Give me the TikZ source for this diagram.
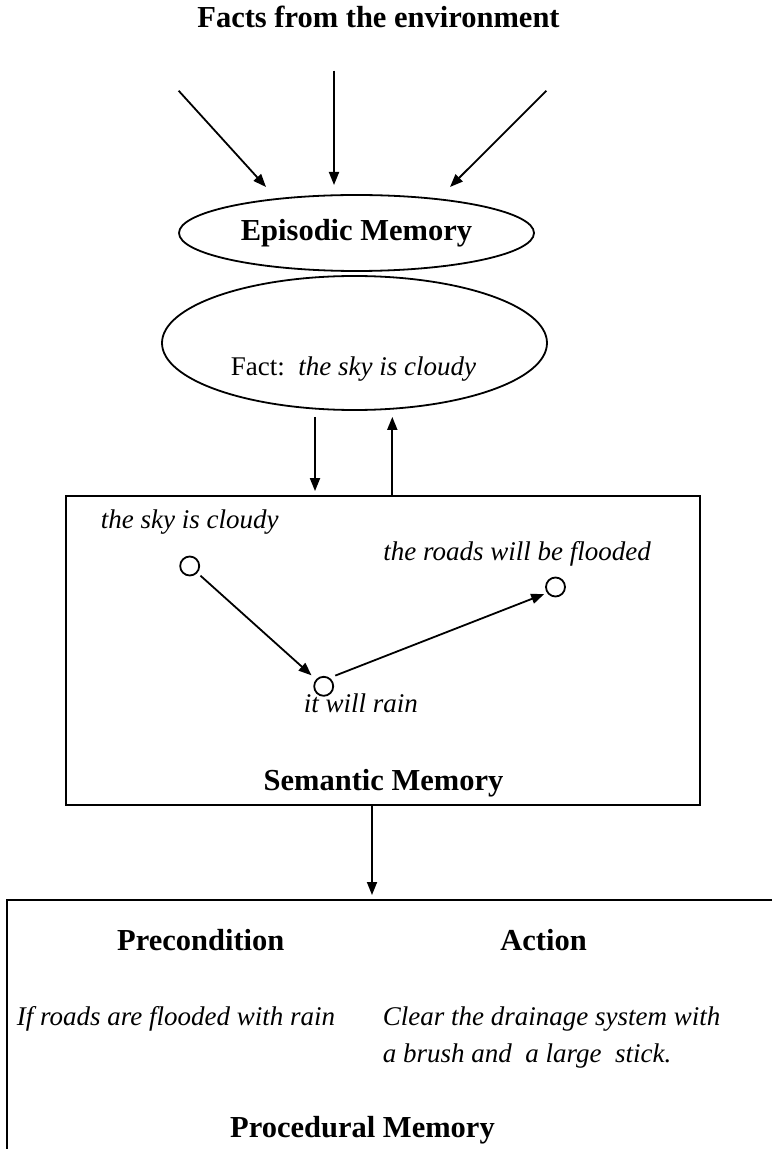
\documentclass[tikz,border=0pt]{standalone}
\usepackage{fontspec}
\setmainfont{Liberation Serif}
\usetikzlibrary{shapes.geometric,arrows.meta}

\begin{document}
\begin{tikzpicture}[x=0.5pt,y=-0.5pt,line width=0.9pt,
  >={Triangle[length=6.5pt,width=5pt]},
  heading/.style={font=\fontsize{15.25}{18}\selectfont\bfseries},
  itext/.style={font=\fontsize{13.5}{16}\selectfont\itshape},
  dot/.style={draw,circle,minimum size=9.5pt,inner sep=0pt}]
  \useasboundingbox (0,0) rectangle (772,1149);

  % helper grid: comment for final drawing
  % \draw[help lines,step=50] (0,0) grid (772,1149);

  % facts coming in
  \node[heading,anchor=base] (facts) at (378.5,28) {Facts from the environment};
  \coordinate (inl) at (178.6,90.7);
  \coordinate (inm) at (334,70.7);
  \coordinate (inr) at (546.4,90.7);
  \coordinate (tipl) at (266,187);
  \coordinate (tipm) at (334,185);
  \coordinate (tipr) at (450,187);
  \draw[->] (inl) -- (tipl);
  \draw[->] (inm) -- (tipm);
  \draw[->] (inr) -- (tipr);

  % episodic memory
  \node[draw,ellipse,heading,inner sep=0pt,minimum width=177.5pt,minimum height=38pt]
    (episodic) at (356.5,233) {Episodic Memory};
  \node[draw,ellipse,minimum width=192.5pt,minimum height=67pt] (factell) at (354.5,343) {};
  \node[anchor=base west,font=\fontsize{13.5}{16}\selectfont,inner sep=0pt]
    (fact) at (230,376) {Fact:\ \ \textit{the sky is cloudy}};

  % semantic memory
  \node[draw,inner sep=0pt,minimum width=317pt,minimum height=154.5pt] (semantic) at (383,650.5) {};
  \coordinate (dn) at (315,0);
  \coordinate (up) at (392.3,0);
  \draw[->,shorten <=3pt,shorten >=2pt] (factell.south -| dn) -- (semantic.north -| dn);
  \draw[->,shorten >=3pt] (semantic.north -| up) -- (factell.south -| up);

  \node[itext,anchor=base west,inner sep=0pt] (skytxt) at (100,528) {the sky is cloudy};
  \node[itext,anchor=base west,inner sep=0pt] (roadstxt) at (382.5,560) {the roads will be flooded};
  \node[itext,anchor=base west,inner sep=0pt] (raintxt) at (303,712) {it will rain};
  \node[dot] (c1) at (189.7,566) {};
  \node[dot] (c2) at (323.7,686.3) {};
  \node[dot] (c3) at (555.5,587) {};
  \draw[->,shorten <=2pt,shorten >=3pt] (c1) -- (c2);
  \draw[->,shorten <=3pt,shorten >=1.5pt] (c2.55) -- (c3.215);
  \node[heading,anchor=base] (semtxt) at (383.5,790) {Semantic Memory};

  % procedural memory
  \coordinate (proctop) at (7,900);
  \coordinate (pd) at (372,0);
  \draw (772,900) -- (proctop) -- (7,1149);
  \draw[->,shorten >=2.5pt] (semantic.south -| pd) -- (pd |- proctop);

  \node[heading,anchor=base] (precond) at (200.8,950) {Precondition};
  \node[heading,anchor=base] (action) at (543.5,950) {Action};
  \node[itext,anchor=base west,inner sep=0pt] (iftxt) at (16,1025) {If roads are flooded with rain};
  \node[itext,anchor=base west,inner sep=0pt] (clear) at (382,1025) {Clear the drainage system with};
  \node[itext,anchor=base west,inner sep=0pt] (brush) at (382,1062) {a brush and\ \ a large\ \ stick.};
  \node[heading,anchor=base] (procmem) at (362.5,1137) {Procedural Memory};

\end{tikzpicture}
\end{document}
